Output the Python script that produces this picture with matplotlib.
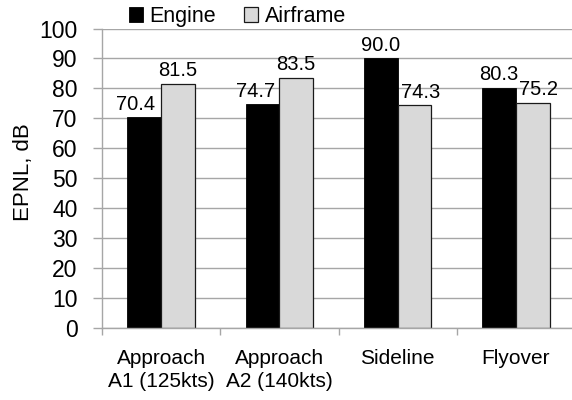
import numpy as np
import matplotlib
matplotlib.use('Agg')
import matplotlib.pyplot as plt

categories = ['Approach\nA1 (125kts)', 'Approach\nA2 (140kts)', 'Sideline', 'Flyover']
engine = [70.4, 74.7, 90.0, 80.3]
airframe = [81.5, 83.5, 74.3, 75.2]

# label nudges in pixels (Excel moved some labels sideways to avoid overlap)
engine_nudge = [-9, -7, 0, 0]
airframe_nudge = [0, 0, 6, 6]

plt.rcParams['font.family'] = ['Liberation Sans', 'DejaVu Sans']

def main():
    fig = plt.figure(figsize=(5.72, 4.0), dpi=100)
    ax = fig.add_axes([102 / 572, 72 / 400, 473 / 572, 299.5 / 400])

    x = np.arange(len(categories))
    w = 0.285
    b1 = ax.bar(x - w / 2, engine, w, color='black', edgecolor='black', linewidth=0.6, label='Engine')
    b2 = ax.bar(x + w / 2, airframe, w, color='#d9d9d9', edgecolor='#1a1a1a', linewidth=0.9, label='Airframe')

    for rect, v, dx in zip(b1, engine, engine_nudge):
        ax.annotate(f'{v:.1f}', (rect.get_x() + rect.get_width() / 2, v),
                    xytext=(dx * 0.72, 2.5), textcoords='offset points',
                    ha='center', va='bottom', fontsize=14.5)
    for rect, v, dx in zip(b2, airframe, airframe_nudge):
        ax.annotate(f'{v:.1f}', (rect.get_x() + rect.get_width() / 2, v),
                    xytext=(dx * 0.72, 2.5), textcoords='offset points',
                    ha='center', va='bottom', fontsize=14.5)

    ax.set_ylim(0, 100)
    ax.set_xlim(-0.5, len(categories) - 0.5)
    ax.set_yticks(np.arange(0, 101, 10))
    ax.yaxis.grid(True, color='#a6a6a6', linewidth=1.0)
    ax.set_axisbelow(True)

    ax.set_xticks(x)
    ax.set_xticklabels(categories, fontsize=15, linespacing=1.25)
    ax.set_xticks(np.arange(len(categories) + 1) - 0.5, minor=True)
    ax.tick_params(axis='x', which='major', length=0, pad=15)
    ax.tick_params(axis='x', which='minor', length=5, color='#a6a6a6', width=1.0)
    ax.tick_params(axis='y', length=6.5, color='#a6a6a6', width=1.0, pad=11, labelsize=16.5)

    for s in ['top', 'right']:
        ax.spines[s].set_visible(False)
    for s in ['left', 'bottom']:
        ax.spines[s].set_color('#a6a6a6')
        ax.spines[s].set_linewidth(1.0)

    ax.set_ylabel('EPNL, dB', fontsize=16)
    ax.yaxis.set_label_coords(-0.143, 0.52)

    fig.legend(loc='center', bbox_to_anchor=(0.415, 0.959), ncol=2, frameon=False,
               fontsize=15.5, handlelength=0.65, handleheight=0.65, handletextpad=0.3,
               columnspacing=1.3, borderaxespad=0)

    fig.savefig('out.png', dpi=100)
    plt.close(fig)

if __name__ == '__main__':
    main()
